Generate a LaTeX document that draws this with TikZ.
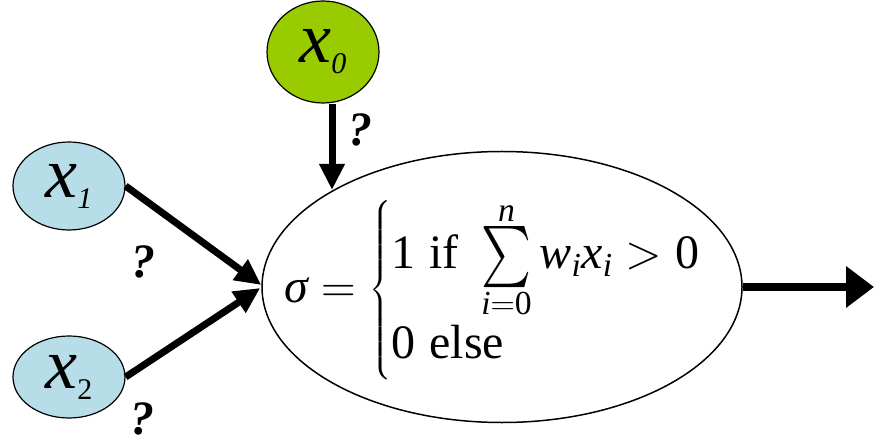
\documentclass[tikz,border=0pt]{standalone}
\usepackage{fix-cm}
\usepackage{amsmath}
\usepackage{graphicx}
\usepackage{fontspec}
\setmainfont{Liberation Serif}
\usetikzlibrary{shapes.geometric,arrows.meta,calc}
\definecolor{xgreen}{RGB}{153,204,0}
\definecolor{xblue}{RGB}{183,222,232}
\tikzset{
  inp/.style={ellipse,draw,line width=1.2pt,inner sep=0pt,minimum width=112pt},
  conn/.style={line width=7pt,-{Triangle[length=26pt,width=24pt]}},
  outconn/.style={line width=8pt,-{Triangle[length=28pt,width=40pt]}},
  qm/.style={inner sep=0pt,font=\fontsize{48}{48}\selectfont\bfseries\itshape},
  neuron/.style={ellipse,draw,line width=1.5pt,inner sep=0pt,minimum width=480pt,minimum height=271pt}
}
\newcommand{\xsub}[1]{{\fontsize{72}{72}\selectfont\itshape x}\raisebox{-11pt}{\fontsize{30}{30}\selectfont #1}}
\newcommand{\ti}[1]{\textit{#1}}
\newcommand{\bigsum}{\mathop{\vcenter{\hbox{\resizebox{50pt}{60pt}{$\sum$}}}}\limits}
\begin{document}
\begin{tikzpicture}[x=1pt,y=-1pt]
\useasboundingbox (0,0) rectangle (874,443);
\node[inp,fill=xgreen,minimum height=102pt] (x0) at (323,52) {\xsub{\itshape 0}};
\node[inp,fill=xblue,minimum height=88pt] (x1) at (69,186) {\xsub{\itshape 1}};
\node[inp,fill=xblue,minimum height=82pt] (x2) at (69,377) {\xsub{2}};
\node[neuron] (s) at (502,287) {};
\node[inner sep=0pt,anchor=west,font=\fontsize{48}{60}\selectfont] (f) at (284,290)
  {$\ti{σ} = \left\{\rule[-80pt]{0pt}{184pt}\begin{array}{@{}l@{}}\text{1}\hspace{0.3em}\text{if}\hspace{0.3em}\bigsum_{\ti{i}=\text{0}}^{\ti{n}} \ti{w}_{\ti{i}}\ti{x}_{\ti{i}} > \text{0}\\[4pt] \text{0}\hspace{0.3em}\text{else}\end{array}\right.$};
\coordinate (out) at (874,287);
\draw[conn] ($(x0.south)+(9,0)$) -- ($(s.center)+(-170,-97)$);
\draw[conn] (x1.east) -- ($(s.west)+(0,-2)$);
\draw[conn] (x2.east) -- ($(s.west)+(-1,1)$);
\draw[outconn] (s.east) -- (out);
\node[qm] (q0) at (360,130) {?};
\node[qm] (q1) at (143,262) {?};
\node[qm] (q2) at (142,419) {?};
\end{tikzpicture}
\end{document}
